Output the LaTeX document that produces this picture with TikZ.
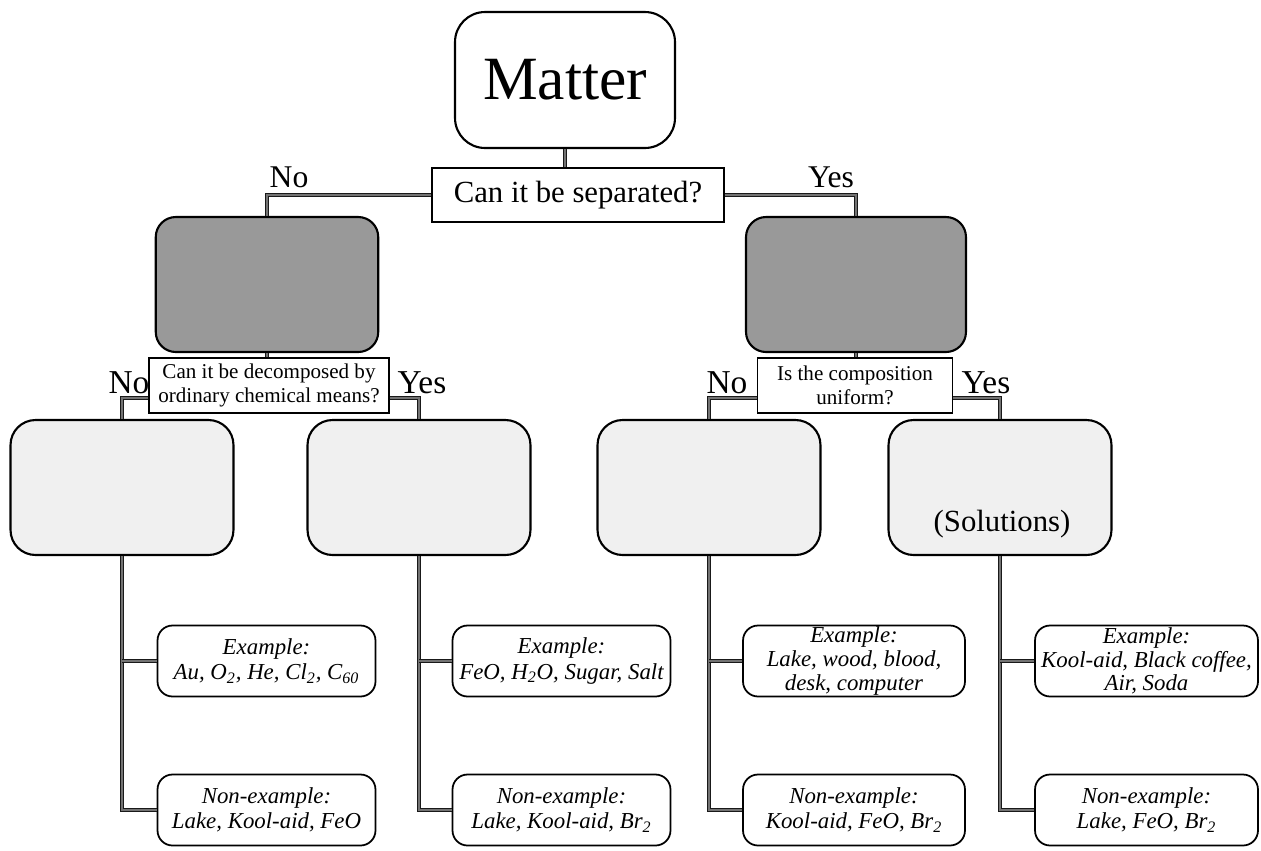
\documentclass[tikz,border=0pt]{standalone}
\usepackage{fontspec}
\setmainfont{Liberation Serif}
\usepackage{tikz}
\usetikzlibrary{positioning}

\begin{document}
\begin{tikzpicture}[
			x=0.02cm, y=-0.02cm,
			matterbox/.style={draw, line width=1.2pt, rounded corners=0.6cm, fill=white, minimum width=4.4cm, minimum height=2.72cm, font=\fontsize{35}{40}\selectfont},
			question/.style={draw, line width=1pt, fill=white, align=center, inner sep=2pt},
			darkbox/.style={draw, line width=1.2pt, rounded corners=0.4cm, fill=black!40, minimum width=4.45cm, minimum height=2.7cm},
			lightbox/.style={draw, line width=1.2pt, rounded corners=0.5cm, fill=black!6, minimum width=4.46cm, minimum height=2.7cm},
			exbox/.style={draw, line width=1pt, rounded corners=0.3cm, fill=white, align=center, minimum width=4.36cm, minimum height=1.42cm, inner sep=0pt, font=\fontsize{13}{14.5}\selectfont\itshape},
			answer/.style={anchor=base, inner sep=0pt, font=\fontsize{18}{20}\selectfont},
			link/.style={line width=0.7pt, draw=black!90, double=black!55, double distance=1.2pt},
			]
			\useasboundingbox (0,0) rectangle (1261,850);
			
			\node[matterbox] (matter) at (565,80) {Matter};
			\node[question, minimum width=5.84cm, minimum height=1.08cm, font=\fontsize{17.5}{20}\selectfont] (sep) at (578,195) {Can it be separated?};
			
			\node[darkbox] (pure) at (267,284.5) {};
			\node[darkbox, minimum width=4.4cm] (mix) at (856,284.5) {};
			
			\node[question, minimum width=4.8cm, minimum height=1.1cm, font=\fontsize{12}{13.5}\selectfont] (decomp) at (269,385.5) {Can it be decomposed by\\ordinary chemical means?};
			\node[question, minimum width=3.9cm, minimum height=1.1cm, font=\fontsize{12}{13.5}\selectfont] (uniform) at (855,385.5) {Is the composition\\uniform?};
			
			\node[lightbox] (elem) at (122,487.5) {};
			\node[lightbox] (comp) at (419,487.5) {};
			\node[lightbox] (hetero) at (709,487.5) {};
			\node[lightbox] (homo) at (1000,487.5) {};
			\node[font=\fontsize{17.5}{20}\selectfont] (sol) at (1002,524) {(Solutions)};
			
			% yes / no labels
			\node[answer] (no1) at (289,187) {No};
			\node[answer] (yes1) at (831,187) {Yes};
			\node[answer, font=\fontsize{19}{21}\selectfont] (no2) at (129,393) {No};
			\node[answer, font=\fontsize{19}{21}\selectfont] (yes2) at (422,393) {Yes};
			\node[answer, font=\fontsize{19}{21}\selectfont] (no3) at (727,393) {No};
			\node[answer, font=\fontsize{19}{21}\selectfont] (yes3) at (986,393) {Yes};
			
			\node[exbox] (exelem) at (266.5,661) {Example:\\Au, O\textsubscript{2}, He, Cl\textsubscript{2}, C\textsubscript{60}};
			\node[exbox] (nonelem) at (266.5,810) {Non-example:\\Lake, Kool-aid, FeO};
			\node[exbox] (excomp) at (561.5,661) {Example:\\FeO, H\textsubscript{2}O, Sugar, Salt};
			\node[exbox] (noncomp) at (561.5,810) {Non-example:\\Lake, Kool-aid, Br\textsubscript{2}};
			\node[exbox, minimum width=4.44cm, font=\fontsize{13}{13.5}\selectfont\itshape] (exhetero) at (854,661) {Example:\\Lake, wood, blood,\\desk, computer};
			\node[exbox, minimum width=4.44cm] (nonhetero) at (854,810) {Non-example:\\Kool-aid, FeO, Br\textsubscript{2}};
			\node[exbox, minimum width=4.46cm, font=\fontsize{13}{13.5}\selectfont\itshape] (exhomo) at (1146.5,661) {Example:\\Kool-aid, Black coffee,\\Air, Soda};
			\node[exbox, minimum width=4.46cm] (nonhomo) at (1146.5,810) {Non-example:\\Lake, FeO, Br\textsubscript{2}};
			
			\draw[link] (matter.south) -- (matter.south |- sep.north);
			\draw[link] (sep.west) -| (pure.north);
			\draw[link] (sep.east) -| (mix.north);
			
			\draw[link] (pure.south) -- (pure.south |- decomp.north);
			\draw[link] (mix.south) -- (mix.south |- uniform.north);
			\draw[link] ([yshift=-0.25cm]decomp.west) -| (elem.north);
			\draw[link] ([yshift=-0.25cm]decomp.east) -| (comp.north);
			\draw[link] ([yshift=-0.25cm]uniform.west) -| (hetero.north);
			\draw[link] ([yshift=-0.25cm]uniform.east) -| (homo.north);
			
			\draw[link] (elem.south) |- (nonelem.west);
			\draw[link] (elem.south |- exelem.west) -- (exelem.west);
			\draw[link] (comp.south) |- (noncomp.west);
			\draw[link] (comp.south |- excomp.west) -- (excomp.west);
			\draw[link] (hetero.south) |- (nonhetero.west);
			\draw[link] (hetero.south |- exhetero.west) -- (exhetero.west);
			\draw[link] (homo.south) |- (nonhomo.west);
			\draw[link] (homo.south |- exhomo.west) -- (exhomo.west);
			
		\end{tikzpicture}
\end{document}
